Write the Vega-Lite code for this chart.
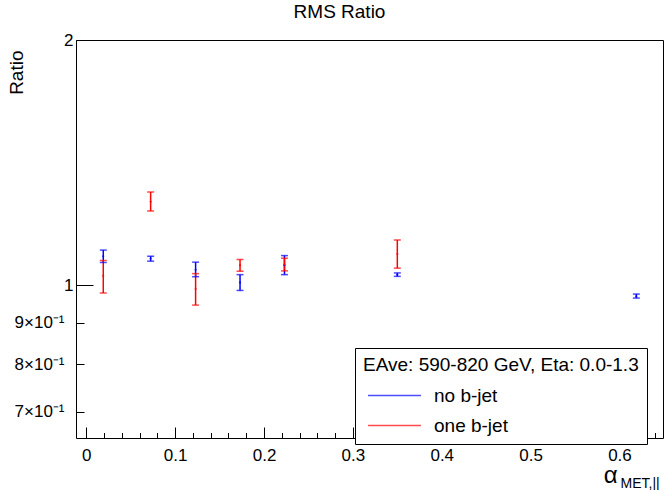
{
  "$schema": "https://vega.github.io/schema/vega-lite/v6.json",
  "width": 587,
  "height": 398,
  "autosize": {"type": "none"},
  "padding": {"left": 76, "top": 40, "right": 2, "bottom": 52},
  "background": "white",
  "title": {"text": "RMS Ratio", "font": "Liberation Sans", "fontSize": 19, "fontWeight": "normal", "color": "black", "anchor": "middle", "dx": -30, "offset": 9},
  "config": {
    "view": {"stroke": "black", "strokeWidth": 1},
    "font": "Liberation Sans"
  },
  "data": {"values": [
    {"series": "no b-jet", "x": 0.0191, "y": 1.086, "lo": 1.067, "hi": 1.105},
    {"series": "no b-jet", "x": 0.0724, "y": 1.079, "lo": 1.071, "hi": 1.086},
    {"series": "no b-jet", "x": 0.123, "y": 1.045, "lo": 1.025, "hi": 1.068},
    {"series": "no b-jet", "x": 0.173, "y": 1.0085, "lo": 0.986, "hi": 1.031},
    {"series": "no b-jet", "x": 0.223, "y": 1.059, "lo": 1.031, "hi": 1.088},
    {"series": "no b-jet", "x": 0.350, "y": 1.031, "lo": 1.026, "hi": 1.036},
    {"series": "no b-jet", "x": 0.619, "y": 0.970, "lo": 0.965, "hi": 0.976},
    {"series": "one b-jet", "x": 0.0191, "y": 1.028, "lo": 0.979, "hi": 1.073},
    {"series": "one b-jet", "x": 0.0724, "y": 1.267, "lo": 1.234, "hi": 1.302},
    {"series": "one b-jet", "x": 0.123, "y": 0.990, "lo": 0.946, "hi": 1.034},
    {"series": "one b-jet", "x": 0.173, "y": 1.059, "lo": 1.041, "hi": 1.076},
    {"series": "one b-jet", "x": 0.223, "y": 1.061, "lo": 1.042, "hi": 1.080},
    {"series": "one b-jet", "x": 0.350, "y": 1.093, "lo": 1.050, "hi": 1.137}
  ]},
  "resolve": {"axis": {"x": "independent"}},
  "layer": [
    {
      "mark": {"type": "rule", "strokeWidth": 1.5},
      "encoding": {
        "x": {"field": "x", "type": "quantitative",
          "scale": {"domain": [-0.0116, 0.649], "nice": false, "zero": false},
          "axis": {
            "orient": "bottom",
            "values": [0,0.02,0.04,0.06,0.08,0.1,0.12,0.14,0.16,0.18,0.2,0.22,0.24,0.26,0.28,0.3,0.32,0.34,0.36,0.38,0.4,0.42,0.44,0.46,0.48,0.5,0.52,0.54,0.56,0.58,0.6,0.62,0.64],
            "labelExpr": "abs(datum.value*10-round(datum.value*10))<0.001 ? (datum.value==0 ? '0' : format(datum.value, '.1f')) : ''",
            "tickSize": {"condition": {"test": "abs(datum.value*10-round(datum.value*10))<0.001", "value": -11}, "value": -5.5},
            "tickColor": "black",
            "tickWidth": 1,
            "domain": false,
            "grid": false,
            "labelFont": "Liberation Sans",
            "labelFontSize": 17,
            "labelColor": "black",
            "labelPadding": 20,
            "labelFlush": false,
            "labelOverlap": false,
            "title": "α",
            "titleFont": "Liberation Sans",
            "titleFontSize": 24,
            "titleFontWeight": "normal",
            "titleColor": "black",
            "titleX": 541,
            "titleY": 44,
            "titleAlign": "right",
            "titleBaseline": "alphabetic",
            "titleAngle": 0
          }},
        "y": {"field": "lo", "type": "quantitative",
          "scale": {"type": "log", "domain": [0.65, 2], "nice": false, "zero": false},
          "axis": {
            "values": [0.7, 0.8, 0.9, 1, 2],
            "labelExpr": "datum.value==1 ? '1' : datum.value==2 ? '2' : datum.value<0.75 ? '7×10⁻¹' : datum.value<0.85 ? '8×10⁻¹' : '9×10⁻¹'",
            "tickSize": {"condition": {"test": "datum.value>=1", "value": -17}, "value": -8},
            "tickColor": "black",
            "tickWidth": 1,
            "domain": false,
            "grid": false,
            "labelFont": "Liberation Sans",
            "labelFontSize": 17,
            "labelColor": "black",
            "labelPadding": 20,
            "labelFlush": false,
            "labelOverlap": false,
            "title": "Ratio",
            "titleFont": "Liberation Sans",
            "titleFontSize": 19,
            "titleFontWeight": "normal",
            "titleColor": "black",
            "titleX": -60,
            "titleY": 10,
            "titleAngle": 270,
            "titleAlign": "right",
            "titleBaseline": "middle"
          }},
        "y2": {"field": "hi"},
        "color": {"field": "series", "type": "nominal",
          "scale": {"domain": ["no b-jet", "one b-jet"], "range": ["#0000ff", "#ff0000"]},
          "legend": {
            "orient": "none", "legendX": 279, "legendY": 308,
            "title": "EAve: 590-820 GeV, Eta: 0.0-1.3",
            "titleLimit": 500,
            "titleFont": "Liberation Sans", "titleFontSize": 19, "titleFontWeight": "normal", "titleColor": "black",
            "labelFont": "Liberation Sans", "labelFontSize": 19, "labelColor": "black",
            "symbolType": "M-1.43,0H1.43", "symbolSize": 1369, "symbolStrokeWidth": 1.5, "symbolOpacity": 0.7,
            "symbolOffset": 12,
            "strokeColor": "black", "fillColor": "white",
            "padding": 8, "rowPadding": 0, "titlePadding": 1, "labelOffset": 20
          }}
      }
    },
    {
      "mark": {"type": "tick", "orient": "horizontal", "size": 7, "thickness": 1.5},
      "encoding": {
        "x": {"field": "x", "type": "quantitative",
          "axis": {"orient": "top", "domain": false, "ticks": false, "labels": false, "grid": false,
            "title": "MET,||", "titleFont": "Liberation Sans", "titleFontSize": 14, "titleFontWeight": "normal", "titleColor": "black",
            "titleX": 544, "titleY": 447, "titleAlign": "left", "titleBaseline": "alphabetic", "titleAngle": 0}},
        "y": {"field": "lo", "type": "quantitative"},
        "color": {"field": "series", "type": "nominal"}
      }
    },
    {
      "mark": {"type": "tick", "orient": "horizontal", "size": 7, "thickness": 1.5},
      "encoding": {
        "x": {"field": "x", "type": "quantitative", "axis": null},
        "y": {"field": "hi", "type": "quantitative"},
        "color": {"field": "series", "type": "nominal"}
      }
    },
    {
      "mark": {"type": "point", "filled": true, "size": 4, "opacity": 1},
      "encoding": {
        "x": {"field": "x", "type": "quantitative", "axis": null},
        "y": {"field": "y", "type": "quantitative"},
        "color": {"field": "series", "type": "nominal"}
      }
    }
  ]
}
